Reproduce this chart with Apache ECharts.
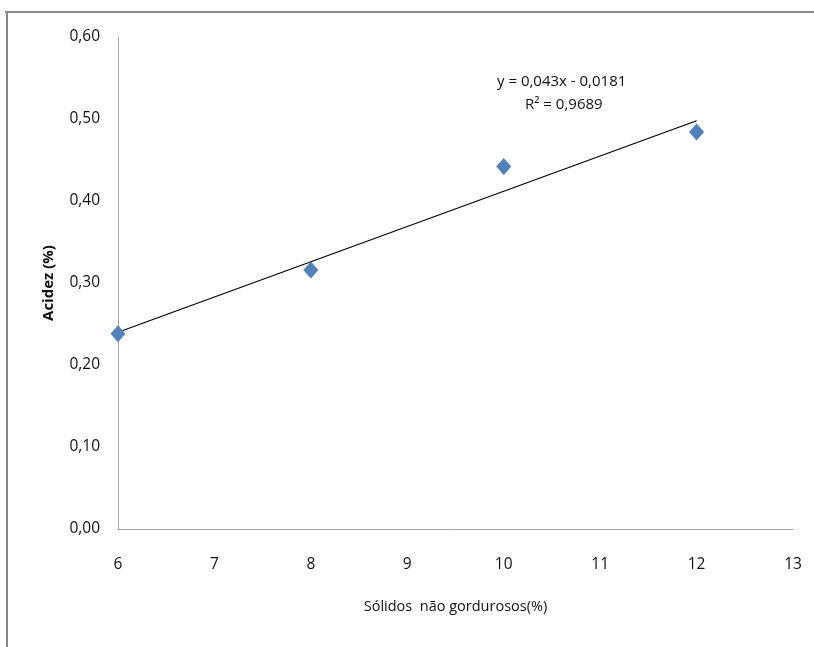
<!DOCTYPE html>
<html>
<head>
<meta charset="utf-8">
<script src="https://cdn.jsdelivr.net/npm/echarts@6/dist/echarts.min.js"></script>
<style>html,body{margin:0;padding:0;background:#fff}#c{width:814px;height:647px}</style>
</head>
<body>
<div id="c"></div>
<script>
const pointsX = [6, 8, 10, 12];
const pointsY = [0.238, 0.316, 0.442, 0.484];
const trendX = [6, 12];
const trendY = [0.2399, 0.4979];
const xTicks = [6, 7, 8, 9, 10, 11, 12, 13];
const yTicks = [0, 0.1, 0.2, 0.3, 0.4, 0.5, 0.6];
const equationText = 'y = 0,043x - 0,0181';
const r2Text = 'R² = 0,9689';
const xTitle = 'Sólidos  não gordurosos(%)';
const yTitle = 'Acidez (%)';

const FONT = '"Open Sans", sans-serif';
const chart = echarts.init(document.getElementById('c'));
chart.setOption({
  animation: false,
  grid: { left: 118, right: 21, top: 37, bottom: 118, containLabel: false },
  xAxis: {
    type: 'value', min: xTicks[0], max: xTicks[xTicks.length - 1], interval: 1,
    axisLine: { lineStyle: { color: '#a6a6a6', width: 1 } },
    axisTick: { show: false }, splitLine: { show: false },
    axisLabel: { color: '#111', fontSize: 15.5, fontFamily: FONT, margin: 28 },
    name: xTitle, nameLocation: 'middle', nameGap: 70,
    nameTextStyle: { color: '#111', fontSize: 14.5, fontFamily: FONT }
  },
  yAxis: {
    type: 'value', min: yTicks[0], max: yTicks[yTicks.length - 1], interval: 0.1,
    axisLine: { show: true, lineStyle: { color: '#a6a6a6', width: 1 } },
    axisTick: { show: false }, splitLine: { show: false },
    axisLabel: { color: '#111', fontSize: 15.5, fontFamily: FONT, margin: 18,
      formatter: v => v.toFixed(2).replace('.', ',') },
    name: yTitle, nameLocation: 'middle', nameGap: 62,
    nameTextStyle: { color: '#111', fontSize: 15, fontWeight: 'bold', fontFamily: FONT }
  },
  series: [
    {
      type: 'line', data: trendX.map((x, i) => [x, trendY[i]]),
      symbol: 'none', lineStyle: { color: '#000', width: 1.2 }, z: 2
    },
    {
      type: 'scatter', data: pointsX.map((x, i) => [x, pointsY[i]]),
      symbol: 'diamond', symbolSize: [15, 17],
      itemStyle: { color: '#4f81bd', opacity: 1 }, z: 3
    }
  ],
  graphic: [
    { type: 'line', shape: { x1: 5, y1: 12, x2: 814, y2: 12 }, style: { stroke: '#888', lineWidth: 2 } },
    { type: 'line', shape: { x1: 7, y1: 12, x2: 7, y2: 647 }, style: { stroke: '#888', lineWidth: 2 } },
    { type: 'text', left: 497, top: 74, style: { text: equationText, font: '15px ' + FONT, fill: '#111' } },
    { type: 'text', left: 525, top: 97, style: { text: r2Text, font: '15px ' + FONT, fill: '#111' } }
  ]
});
</script>
</body>
</html>
